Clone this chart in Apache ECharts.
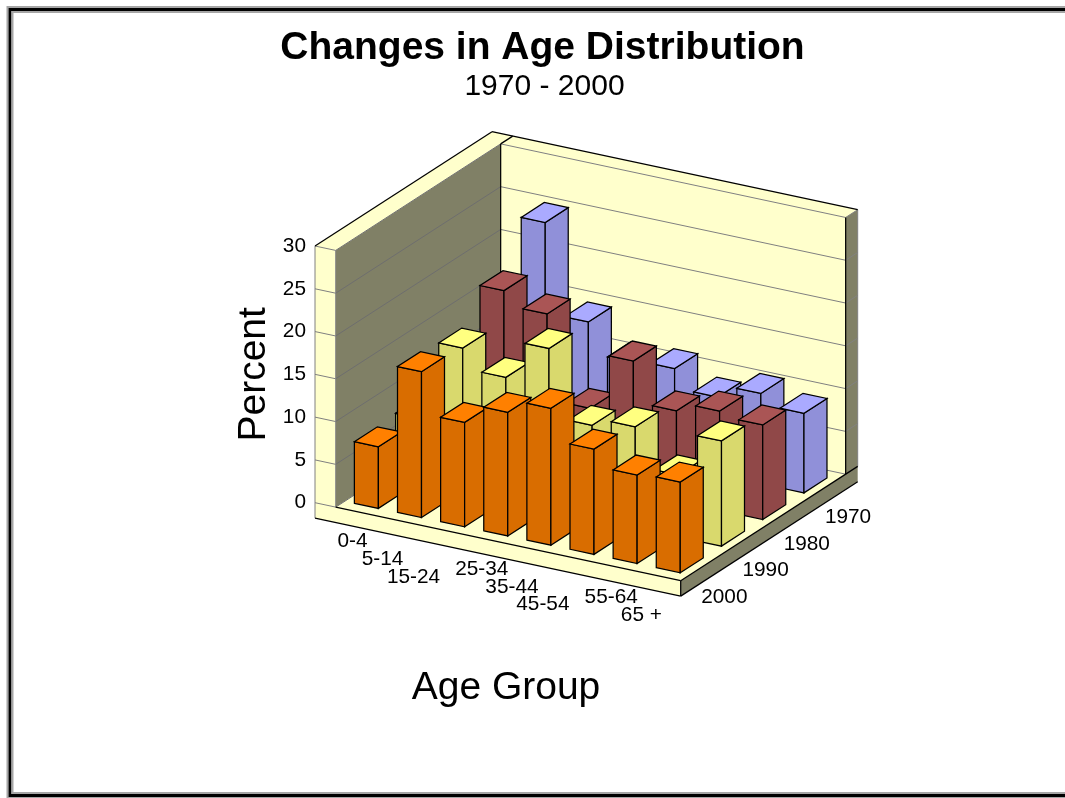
<!DOCTYPE html>
<html>
<head>
<meta charset="utf-8">
<title>Changes in Age Distribution</title>
<style>
  html, body { margin: 0; padding: 0; background: #fff; }
  #chart { width: 1065px; height: 798px; }
</style>
<script src="https://cdn.jsdelivr.net/npm/echarts@6/dist/echarts.min.js"></script>
</head>
<body>
<div id="chart"></div>
<script>
// Chart content
const titleText = 'Changes in Age Distribution';
const subtitleText = '1970 - 2000';
const yAxisName = 'Percent';
const xAxisName = 'Age Group';
const ageGroups = ['0-4', '5-14', '15-24', '25-34', '35-44', '45-54', '55-64', '65 +'];
const years = ['2000', '1990', '1980', '1970'];   // front row first
const percentTicks = [0, 5, 10, 15, 20, 25, 30];

// Percent per age group, one array per census year
const values2000 = [7.2, 17.05, 12.2, 14.45, 16.0, 12.3, 10.35, 10.6];
const values1990 = [7.4, 16.7, 14.35, 18.8, 10.9, 11.8, 7.25, 12.3];
const values1980 = [7.2, 20.3, 18.65, 8.7, 15.3, 10.55, 11.6, 11.05];
const values1970 = [8.4, 25.15, 14.6, 11.0, 11.3, 9.05, 10.55, 9.3];
const rowValues = [values2000, values1990, values1980, values1970];

// Colours per row: lit top face and shaded front and side faces
const topColors = ['#ff8000', '#ffff80', '#aa5555', '#aaaaff'];
const faceColors = ['#d96d00', '#d9d96d', '#904848', '#9090d9'];
const WALL_LIGHT = '#ffffcc';
const WALL_DARK = '#808066';
const GRID_GRAY = '#808080';
const EDGE_WIDTH = 1.25;

// Oblique projection of the box: a runs along the age groups, b runs into depth, z is percent
const PLOT_LEFT = 315, PLOT_TOP = 246, PLOT_HEIGHT = 256.7, AXIS_SPAN = 382;
const PX_PER_PERCENT = PLOT_HEIGHT / 30;
const U = [365.7, 78], V = [177, -114.3];
const WALL_A = 0.0566, WALL_B = 0.932, PLATE_DROP = -1.8;
const CELL_A = (1 - WALL_A) / ageGroups.length, CELL_B = WALL_B / years.length;
const BAR_A = 0.0656, BAR_B = 0.13;

function projector(api) {
  return function (a, b, z) {
    const x = a * U[0] + b * V[0];
    const y = z - (a * U[1] + b * V[1]) / PX_PER_PERCENT;
    return api.coord([x, y]);
  };
}
function poly(points, fill, stroke, lineWidth) {
  return { type: 'polygon', shape: { points }, silent: true,
    style: { fill, stroke: stroke || null, lineWidth: lineWidth || 0 } };
}
function seg(p, q, stroke, lineWidth) {
  return { type: 'line', silent: true, shape: { x1: p[0], y1: p[1], x2: q[0], y2: q[1] },
    style: { stroke, lineWidth: lineWidth || 1, fill: null } };
}

// Walls, floor plate and gridlines
function renderBox(params, api) {
  const P = projector(api);
  const A = WALL_A, B = WALL_B, T = 30, D = PLATE_DROP;
  const kids = [
    poly([P(A, 0, 0), P(A, B, 0), P(A, B, T), P(A, 0, T)], WALL_DARK),
    poly([P(A, B, 0), P(1, B, 0), P(1, B, T), P(A, B, T)], WALL_LIGHT),
    poly([P(0, 0, 0), P(A, 0, 0), P(A, 0, T), P(0, 0, T)], WALL_LIGHT),
    poly([P(0, 0, T), P(0, 1, T), P(A, 1, T), P(A, 0, T)], WALL_LIGHT),
    poly([P(A, 1, T), P(1, 1, T), P(1, B, T), P(A, B, T)], WALL_LIGHT),
    poly([P(1, B, 0), P(1, 1, 0), P(1, 1, T), P(1, B, T)], WALL_DARK),
    poly([P(A, 0, 0), P(1, 0, 0), P(1, B, 0), P(A, B, 0)], WALL_LIGHT),
    poly([P(0, 0, D), P(1, 0, D), P(1, 0, 0), P(0, 0, 0)], WALL_LIGHT),
    poly([P(1, 0, D), P(1, 1, D), P(1, 1, 0), P(1, 0, 0)], WALL_DARK)
  ];
  percentTicks.forEach(function (z) {
    kids.push(seg(P(0, 0, z), P(A, 0, z), GRID_GRAY));
    kids.push(seg(P(A, 0, z), P(A, B, z), '#6e6e6e'));
    kids.push(seg(P(A, B, z), P(1, B, z), GRID_GRAY));
    kids.push(seg(P(1, B, z), P(1, 1, z), GRID_GRAY));
  });
  kids.push(
    seg(P(0, 0, D), P(0, 0, T), GRID_GRAY),
    seg(P(A, 0, 0), P(A, 0, T), GRID_GRAY),
    seg(P(1, 1, 0), P(1, 1, T), GRID_GRAY),
    seg(P(0, 0, T), P(0, 1, T), '#000', EDGE_WIDTH),
    seg(P(0, 1, T), P(1, 1, T), '#000', EDGE_WIDTH),
    seg(P(A, B, 0), P(A, B, T), '#000', EDGE_WIDTH),
    seg(P(1, B, 0), P(1, B, T), '#000', EDGE_WIDTH),
    seg(P(A, B, T), P(A, 1, T), '#000', EDGE_WIDTH),
    seg(P(A, 0, 0), P(1, 0, 0), '#000', EDGE_WIDTH),
    seg(P(0, 0, D), P(1, 0, D), '#000', EDGE_WIDTH),
    seg(P(1, 0, D), P(1, 0, 0), '#000', EDGE_WIDTH),
    seg(P(1, 0, 0), P(1, 1, 0), '#000', EDGE_WIDTH),
    seg(P(1, 0, D), P(1, 1, D), '#000', EDGE_WIDTH)
  );
  return { type: 'group', children: kids };
}

// One prism per value: front, side and top faces
function renderBar(params, api) {
  const P = projector(api);
  const cat = api.value(0), row = api.value(1), val = api.value(2);
  const a0 = WALL_A + (cat + 0.5) * CELL_A - BAR_A / 2, a1 = a0 + BAR_A;
  const b0 = (row + 0.5) * CELL_B - BAR_B / 2, b1 = b0 + BAR_B;
  const face = faceColors[row], top = topColors[row];
  return { type: 'group', children: [
    poly([P(a0, b0, 0), P(a1, b0, 0), P(a1, b0, val), P(a0, b0, val)], face, '#000', EDGE_WIDTH),
    poly([P(a1, b0, 0), P(a1, b1, 0), P(a1, b1, val), P(a1, b0, val)], face, '#000', EDGE_WIDTH),
    poly([P(a0, b0, val), P(a1, b0, val), P(a1, b1, val), P(a0, b1, val)], top, '#000', EDGE_WIDTH)
  ] };
}

// Age-group labels step through three levels below the front edge
const LABEL_LEVELS = [[-4.8, 30], [-17.8, 38.7], [-30, 47]];
const LABEL_FONT = '20.8px "Liberation Sans", Arial, sans-serif';
function labelEl(pt, text) {
  return { type: 'text', silent: true,
    style: { text, x: pt[0], y: pt[1], fill: '#000', font: LABEL_FONT, align: 'center', verticalAlign: 'middle' } };
}
function renderAgeLabel(params, api) {
  const P = projector(api);
  const i = api.value(0);
  const pt = P(WALL_A + (i + 0.5) * CELL_A, 0, 0);
  const off = LABEL_LEVELS[i % 3];
  return labelEl([pt[0] + off[0], pt[1] + off[1]], ageGroups[i]);
}
function renderYearLabel(params, api) {
  const P = projector(api);
  const j = api.value(0);
  const pt = P(1, (j + 0.5) * CELL_B, 0);
  return labelEl([pt[0] + 23, pt[1] + 30], years[j]);
}

// Painter's order: back row first, left to right inside a row
const barData = [];
for (let r = years.length - 1; r >= 0; r--) {
  rowValues[r].forEach(function (v, c) { barData.push([c, r, v]); });
}

// Raised frame around the page; it runs off the right edge
function frameRect(inset, color, width) {
  return { type: 'rect', silent: true,
    shape: { x: 7.5 + inset, y: 7 + inset, width: 1200, height: 791 - 2 * inset },
    style: { fill: null, stroke: color, lineWidth: width } };
}

const chart = echarts.init(document.getElementById('chart'), null, { renderer: 'canvas' });
chart.setOption({
  animation: false,
  backgroundColor: '#fff',
  textStyle: { fontFamily: '"Liberation Sans", Arial, sans-serif' },
  title: [
    { text: titleText, left: 542.5, top: 29, textAlign: 'center', padding: 0,
      textStyle: { fontSize: 39, fontWeight: 'bold', color: '#000', fontFamily: '"Liberation Sans", Arial, sans-serif' } },
    { text: subtitleText, left: 544.5, top: 72, textAlign: 'center', padding: 0,
      textStyle: { fontSize: 30, fontWeight: 'normal', color: '#000', fontFamily: '"Liberation Sans", Arial, sans-serif' } }
  ],
  grid: { left: PLOT_LEFT, top: PLOT_TOP, width: AXIS_SPAN, height: PLOT_HEIGHT, containLabel: false },
  xAxis: {
    type: 'value', min: 0, max: AXIS_SPAN,
    axisLine: { show: false }, axisTick: { show: false }, axisLabel: { show: false }, splitLine: { show: false },
    name: xAxisName, nameLocation: 'middle', nameGap: 166,
    nameTextStyle: { fontSize: 39, color: '#000' }
  },
  yAxis: {
    type: 'value', min: 0, max: 30, interval: 5,
    axisLine: { show: false }, axisTick: { show: false }, splitLine: { show: false },
    axisLabel: { fontSize: 20.8, color: '#000', margin: 9 },
    name: yAxisName, nameLocation: 'middle', nameGap: 41, nameRotate: 90,
    nameTextStyle: { fontSize: 39, color: '#000' }
  },
  graphic: { elements: [
    frameRect(0, '#a6a6a6', 2),
    frameRect(2.5, '#000', 3),
    frameRect(5, '#a6a6a6', 2)
  ] },
  series: [
    { type: 'custom', silent: true, renderItem: renderBox, data: [[0, 0]], encode: { x: 0, y: 1 }, z: 1 },
    { type: 'custom', silent: true, renderItem: renderBar, data: barData, encode: { x: 0, y: 2 }, z: 2 },
    { type: 'custom', silent: true, renderItem: renderAgeLabel, data: ageGroups.map(function (g, i) { return [i]; }), encode: { x: 0 }, z: 3 },
    { type: 'custom', silent: true, renderItem: renderYearLabel, data: years.map(function (y, j) { return [j]; }), encode: { x: 0 }, z: 3 }
  ]
});
</script>
</body>
</html>
